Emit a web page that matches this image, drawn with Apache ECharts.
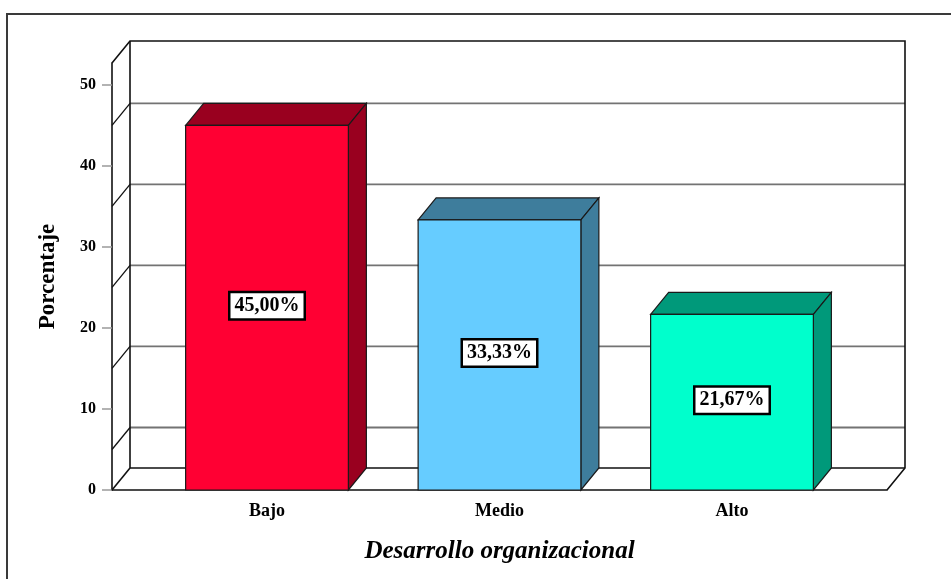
<!DOCTYPE html>
<html>
<head>
<meta charset="utf-8">
<script src="https://cdn.jsdelivr.net/npm/echarts@6/dist/echarts.min.js"></script>
<style>
  html, body { margin: 0; padding: 0; background: #ffffff; }
  #chart { width: 951px; height: 579px; }
</style>
</head>
<body>
<div id="chart"></div>
<script>
// Categories and percentages of the survey
const categories = ['Bajo', 'Medio', 'Alto'];
const percentages = [45.00, 33.33, 21.67];
const categoryPositions = [1, 2, 3];
// Axis tick labels and the guide lines drawn on the back wall
const yTickValues = [0, 10, 20, 30, 40, 50];
const wallLineValues = [5, 15, 25, 35, 45];

// Face colours: front face and shaded top/side faces
const frontColors = ['#ff0033', '#66ccff', '#00ffcc'];
const shadeColors = ['#99001f', '#3e7d9c', '#00997a'];

// Pseudo-3D depth of walls and bars (pixels)
const DX = 18;
const DY = 22;
const BAR_WIDTH = 0.7;
const X_MIN = 1 / 3;
const X_MAX = 11 / 3;
const Y_MAX = 52.7;
const SERIF = '"Liberation Serif", "DejaVu Serif", serif';

function formatPct(v) {
  return v.toFixed(2).replace('.', ',') + '%';
}

function seg(points, color, width) {
  return {
    type: 'polyline',
    shape: { points: points },
    style: { stroke: color, lineWidth: width, fill: null },
    silent: true
  };
}

// Back wall, left wall and floor of the box
function renderWalls(params, api) {
  const cs = params.coordSys;
  const x0 = cs.x, x1 = cs.x + cs.width;
  const yTop = cs.y, yBase = cs.y + cs.height;
  const children = [];
  wallLineValues.forEach(function (v) {
    const y = api.coord([X_MIN, v])[1];
    children.push(seg([[x0 + DX, y - DY], [x1 + DX, y - DY]], '#737373', 1.8));
    children.push(seg([[x0, y], [x0 + DX, y - DY]], '#111', 1.3));
  });
  // top and right edge of the back wall
  children.push(seg([[x0, yTop], [x0 + DX, yTop - DY], [x1 + DX, yTop - DY], [x1 + DX, yBase - DY], [x1, yBase]], '#111', 1.6));
  // back-left corner and back floor edge
  children.push(seg([[x0 + DX, yTop - DY], [x0 + DX, yBase - DY], [x1 + DX, yBase - DY]], '#111', 1.6));
  // floor left edge
  children.push(seg([[x0, yBase], [x0 + DX, yBase - DY]], '#111', 1.6));
  return { type: 'group', children: children };
}

// One box-shaped bar with its value label
function renderBar(params, api) {
  const i = params.dataIndex;
  const xv = api.value(0);
  const v = api.value(1);
  const base = api.coord([xv, 0]);
  const top = api.coord([xv, v]);
  const w = api.size([BAR_WIDTH, 0])[0];
  const xl = base[0] - w / 2, xr = base[0] + w / 2;
  const yt = top[1], yb = base[1];
  const edge = { stroke: '#1a1a1a', lineWidth: 1.2 };
  return {
    type: 'group',
    children: [
      {
        type: 'polygon',
        shape: { points: [[xl, yt], [xr, yt], [xr + DX, yt - DY], [xl + DX, yt - DY]] },
        style: Object.assign({ fill: shadeColors[i] }, edge)
      },
      {
        type: 'polygon',
        shape: { points: [[xr, yt], [xr + DX, yt - DY], [xr + DX, yb - DY], [xr, yb]] },
        style: Object.assign({ fill: shadeColors[i] }, edge)
      },
      {
        type: 'rect',
        shape: { x: xl, y: yt, width: w, height: yb - yt },
        style: Object.assign({ fill: frontColors[i] }, edge)
      },
      {
        type: 'text',
        x: base[0],
        y: (yt + yb) / 2 - 2,
        z2: 10,
        style: {
          text: formatPct(v),
          align: 'center',
          verticalAlign: 'middle',
          font: 'bold 20px ' + SERIF,
          fill: '#000',
          backgroundColor: '#ffffff',
          borderColor: '#000000',
          borderWidth: 2.5,
          padding: [3, 4, 2, 4]
        }
      }
    ]
  };
}

const chart = echarts.init(document.getElementById('chart'));
chart.setOption({
  animation: false,
  backgroundColor: '#ffffff',
  graphic: [{
    type: 'polyline',
    shape: { points: [[7, 579], [7, 14], [951, 14]] },
    style: { stroke: '#3a3a3a', lineWidth: 2, fill: null },
    silent: true
  }],
  grid: { left: 112, right: 64, top: 63, bottom: 89 },
  xAxis: {
    type: 'value',
    min: X_MIN,
    max: X_MAX,
    name: 'Desarrollo organizacional',
    nameLocation: 'middle',
    nameGap: 49,
    nameTextStyle: {
      fontFamily: SERIF, fontWeight: 'bold', fontStyle: 'italic',
      fontSize: 25, color: '#000'
    },
    axisLine: { show: true, lineStyle: { color: '#111', width: 1.6 } },
    axisTick: { show: false },
    splitLine: { show: false },
    axisLabel: {
      customValues: categoryPositions,
      formatter: function (v) { return categories[Math.round(v) - 1] || ''; },
      fontFamily: SERIF, fontWeight: 'bold', fontSize: 18, color: '#000',
      margin: 12
    }
  },
  yAxis: {
    type: 'value',
    min: 0,
    max: Y_MAX,
    name: 'Porcentaje',
    nameLocation: 'middle',
    nameGap: 52,
    nameTextStyle: {
      fontFamily: SERIF, fontWeight: 'bold', fontSize: 23, color: '#000'
    },
    axisLine: { show: true, lineStyle: { color: '#111', width: 1.6 } },
    axisTick: {
      show: true, length: 10, customValues: yTickValues,
      lineStyle: { color: '#9a9a9a', width: 1.5 }
    },
    splitLine: { show: false },
    axisLabel: {
      customValues: yTickValues,
      fontFamily: SERIF, fontWeight: 'bold', fontSize: 16, color: '#000',
      margin: 16
    }
  },
  series: [
    {
      type: 'custom',
      z: 1,
      silent: true,
      renderItem: renderWalls,
      data: [[X_MIN, 0]]
    },
    {
      type: 'custom',
      z: 2,
      silent: true,
      renderItem: renderBar,
      encode: { x: 0, y: 1 },
      data: categoryPositions.map(function (p, i) { return [p, percentages[i]]; })
    }
  ]
});
</script>
</body>
</html>
